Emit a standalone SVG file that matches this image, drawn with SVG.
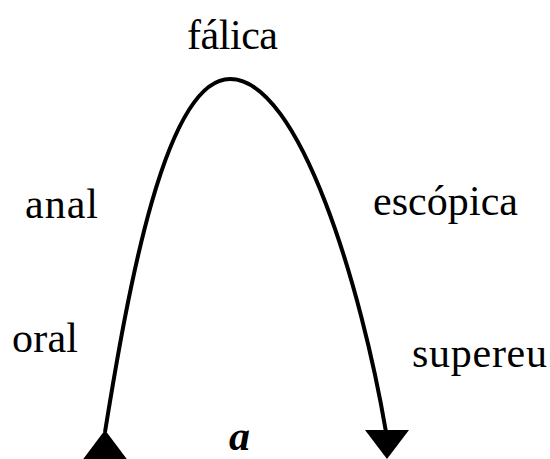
<svg xmlns="http://www.w3.org/2000/svg" width="550" height="459" viewBox="0 0 550 459">
  <style>
    .lbl { font-family: "Liberation Serif", "Times New Roman", serif; font-size: 42px; fill: #000; }
    .it { font-style: italic; font-weight: bold; }
    .arc { fill: none; stroke: #000; stroke-width: 4; stroke-linecap: butt; }
    .head { fill: #000; stroke: none; }
  </style>
  <rect width="550" height="459" fill="#fff"/>
  <g id="connectors">
    <path class="arc" d="M105,432 C128,290 165,79 230,79 C300,79 362,290 386,432"/>
    <polygon class="head" points="105,430 81,462 129,462"/>
    <polygon class="head" points="365,430 409,430 387,459"/>
  </g>
  <g id="node-falica"><text class="lbl" x="187" y="49" textLength="91">fálica</text></g>
  <g id="node-anal"><text class="lbl" x="25" y="218" textLength="73">anal</text></g>
  <g id="node-oral"><text class="lbl" x="12" y="352" textLength="66">oral</text></g>
  <g id="node-escopica"><text class="lbl" x="373" y="215" textLength="145">escópica</text></g>
  <g id="node-supereu"><text class="lbl" x="412" y="367" textLength="135">supereu</text></g>
  <g id="node-a"><text class="lbl it" x="229" y="450">a</text></g>
</svg>
